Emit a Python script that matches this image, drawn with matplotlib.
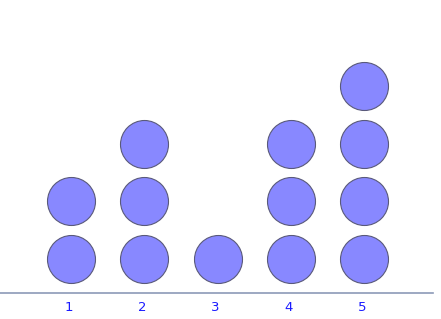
import matplotlib
matplotlib.use("Agg")
import matplotlib.pyplot as plt
import matplotlib.transforms as mtransforms

# categories and how many dots are stacked on each
categories = [1, 2, 3, 4, 5]
counts = [2, 3, 1, 3, 4]
tick_labels = ["1", "2", "3", "4", "5"]

W, H = 441, 319
fig = plt.figure(figsize=(W / 100, H / 100), dpi=100)

# axes: bottom edge is the baseline line, left at 0, right a bit short of the edge
line_y = 293
ax = fig.add_axes([0, (H - line_y) / H, 433 / W, line_y / H])

step_x = 73.3
first_x = 71
ax.set_xlim(1 - first_x / step_x, 1 + (433 - first_x) / step_x)
step_y = 57.7
ax.set_ylim(1 - 34 / step_y, 1 - 34 / step_y + line_y / step_y)

xs, ys = [], []
for cat, n in zip(categories, counts):
    for level in range(1, n + 1):
        xs.append(cat)
        ys.append(level)

diam_pt = 48 * 72 / 100
ax.scatter(xs, ys, s=diam_pt ** 2, color="#8888ff", edgecolor="#5a5a7a",
           linewidth=0.8, zorder=3, clip_on=False)

for side in ["top", "right", "left"]:
    ax.spines[side].set_visible(False)
ax.spines["bottom"].set_color("#8c9ab8")
ax.spines["bottom"].set_linewidth(1.2)

ax.set_yticks([])
ax.set_xticks(categories)
ax.set_xticklabels(tick_labels)
ax.tick_params(axis="x", length=0, pad=6, labelsize=9.5, labelcolor="#1a1aff")

# labels sit a touch left of the dot centres in the original
shift = mtransforms.ScaledTranslation(-2 / 100, 0, fig.dpi_scale_trans)
for lbl in ax.get_xticklabels():
    lbl.set_transform(lbl.get_transform() + shift)

fig.savefig("out.png", dpi=100)
